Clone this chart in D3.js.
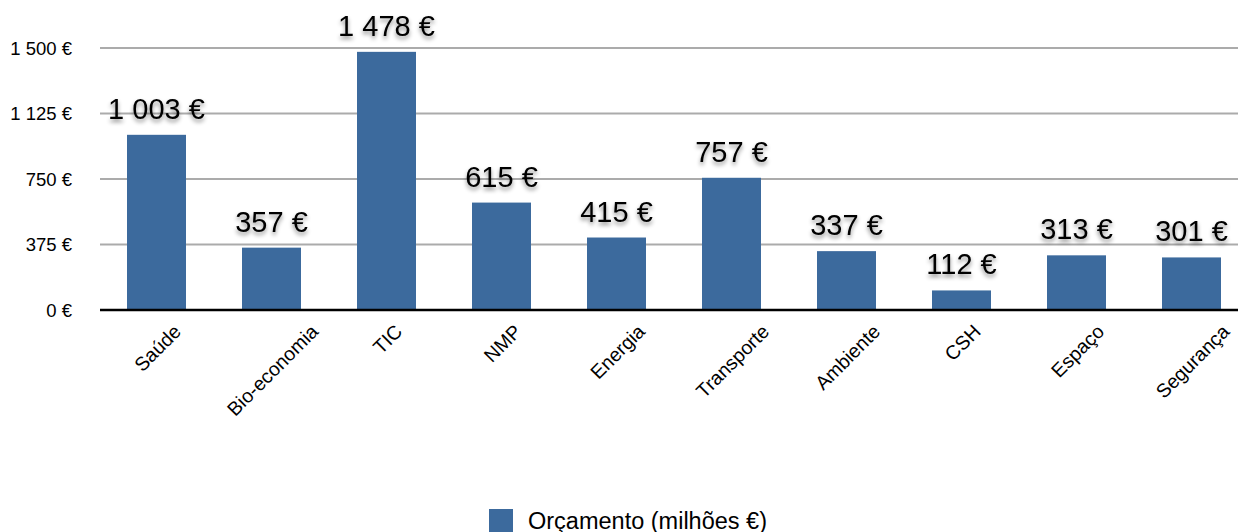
<!DOCTYPE html>
<meta charset="utf-8">
<script src="https://d3js.org/d3.v7.min.js"></script>
<style>
  body { margin: 0; background: #fff; }
  text { font-family: "Liberation Sans", Arial, sans-serif; }
</style>
<div id="chart"></div>
<script>

  // data
  var categories = ["Saúde", "Bio-economia", "TIC", "NMP", "Energia", "Transporte", "Ambiente", "CSH", "Espaço", "Segurança"]
  var budget = [1003, 357, 1478, 615, 415, 757, 337, 112, 313, 301]
  var yTicks = [0, 375, 750, 1125, 1500]
  var seriesName = "Orçamento (milhões €)"

  var W = 1239, H = 532
  var barColor = "#3c6a9d"

  var fmt = function(v) { return d3.format(",")(v).replace(/,/g, " ") + " €" }

  var svg = d3.select("#chart")
    .append("svg")
      .attr("width", W)
      .attr("height", H)

  // drop shadow for value labels
  var defs = svg.append("defs")
  defs.append("filter")
      .attr("id", "shadow")
      .attr("x", "-20%").attr("y", "-40%")
      .attr("width", "140%").attr("height", "180%")
    .append("feDropShadow")
      .attr("dx", 0).attr("dy", 3)
      .attr("stdDeviation", 2.2)
      .attr("flood-color", "#000")
      .attr("flood-opacity", 0.45)

  var x = d3.scaleBand()
    .domain(categories)
    .range([99, 1249])
    .paddingInner(0.487)
    .paddingOuter(0.2435)

  var y = d3.scaleLinear()
    .domain([0, 1500])
    .range([310, 48])

  // grid lines
  svg.append("g")
    .selectAll("line")
    .data(yTicks.slice(1))
    .enter()
    .append("line")
      .attr("x1", 100)
      .attr("x2", 1238)
      .attr("y1", function(d) { return y(d) })
      .attr("y2", function(d) { return y(d) })
      .attr("stroke", "#ababab")
      .attr("stroke-width", 2)

  // y axis labels
  var yAxis = svg.append("g")
    .attr("transform", "translate(72,0)")
    .call(d3.axisLeft(y).tickValues(yTicks).tickFormat(fmt).tickSize(0).tickPadding(0))
  yAxis.attr("font-size", null).attr("font-family", null)
  yAxis.select(".domain").remove()
  yAxis.selectAll("text")
    .attr("dy", "0.35em")
    .style("font-size", "18.5px")
    .attr("fill", "#000")

  // bars
  svg.selectAll(".bar")
    .data(budget)
    .enter()
    .append("rect")
      .attr("class", "bar")
      .attr("x", function(d, i) { return x(categories[i]) })
      .attr("y", function(d) { return y(d) })
      .attr("width", x.bandwidth())
      .attr("height", function(d) { return y(0) - y(d) })
      .attr("fill", barColor)

  // baseline
  svg.append("line")
    .attr("x1", 100).attr("x2", 1238)
    .attr("y1", y(0)).attr("y2", y(0))
    .attr("stroke", "#000")
    .attr("stroke-width", 2.5)

  // value labels
  svg.selectAll(".val")
    .data(budget)
    .enter()
    .append("text")
      .attr("class", "val")
      .attr("x", function(d, i) { return x(categories[i]) + x.bandwidth() / 2 })
      .attr("y", function(d) { return y(d) - 16 })
      .attr("text-anchor", "middle")
      .style("font-size", "29px")
      .attr("fill", "#000")
      .attr("filter", "url(#shadow)")
      .text(fmt)

  // category labels, rotated
  svg.selectAll(".cat")
    .data(categories)
    .enter()
    .append("text")
      .attr("class", "cat")
      .attr("text-anchor", "middle")
      .attr("dy", "0.35em")
      .style("font-size", "19.5px")
      .attr("fill", "#000")
      .text(function(d) { return d })
      .each(function(d) {
        var len = this.getComputedTextLength()
        var cx = x(d) + x.bandwidth() / 2 + 1
        var cy = 328 + len * 0.7071 / 2
        d3.select(this).attr("transform", "translate(" + cx + "," + cy + ") rotate(-45)")
      })

  // legend
  svg.append("rect")
    .attr("x", 489).attr("y", 509)
    .attr("width", 24).attr("height", 23)
    .attr("fill", barColor)
  svg.append("text")
    .attr("x", 528).attr("y", 529)
    .style("font-size", "23.5px")
    .attr("fill", "#000")
    .text(seriesName)

</script>
